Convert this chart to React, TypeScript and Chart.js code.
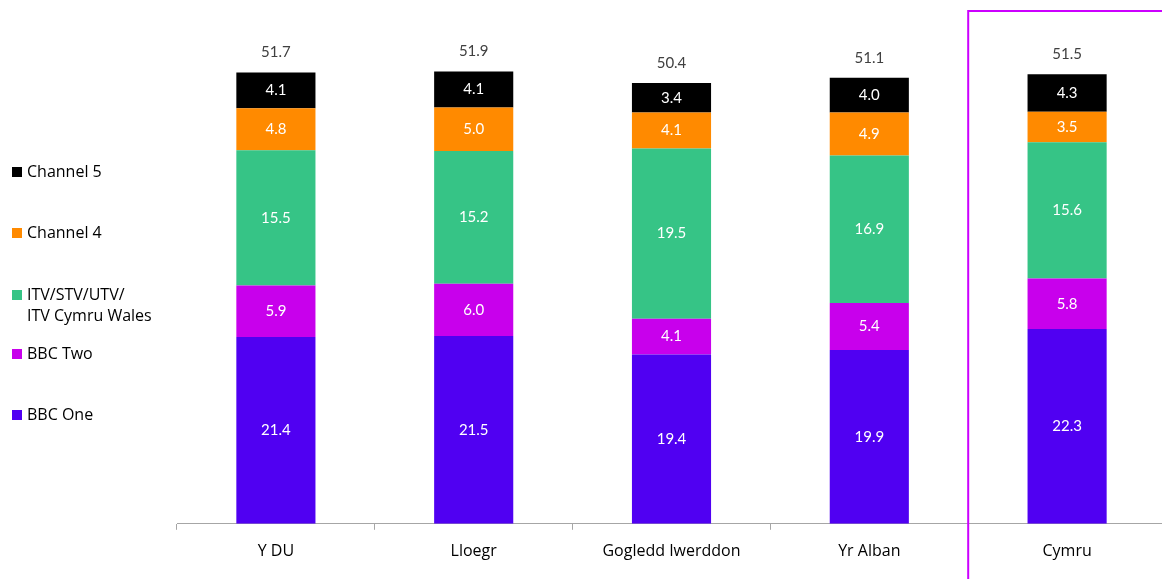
import React, { useEffect, useRef } from "react";
import { Chart, registerables } from "chart.js";

Chart.register(...registerables);

const categories = ["Y DU", "Lloegr", "Gogledd Iwerddon", "Yr Alban", "Cymru"];
const bbcOne = [21.4, 21.5, 19.4, 19.9, 22.3];
const bbcTwo = [5.9, 6.0, 4.1, 5.4, 5.8];
const itv = [15.5, 15.2, 19.5, 16.9, 15.6];
const channel4 = [4.8, 5.0, 4.1, 4.9, 3.5];
const channel5 = [4.1, 4.1, 3.4, 4.0, 4.3];
const totals = [51.7, 51.9, 50.4, 51.1, 51.5];

const seriesNames = ["BBC One", "BBC Two", "ITV/STV/UTV/ITV Cymru Wales", "Channel 4", "Channel 5"];
const colors = ["#5000F2", "#C800EC", "#36C486", "#FF8A00", "#000000"];
const legendLines = [["BBC One"], ["BBC Two"], ["ITV/STV/UTV/", "ITV Cymru Wales"], ["Channel 4"], ["Channel 5"]];
const legendY = [415, 354, 295, 233, 172];

const NUMFONT = "Lato, 'Open Sans', sans-serif";
const FONT = "'Open Sans', Lato, sans-serif";

export default function App() {
  const ref = useRef<HTMLCanvasElement | null>(null);
  useEffect(() => {
    if (!ref.current) return;
    const labelsPlugin = {
      id: "labelsPlugin",
      afterDatasetsDraw(chart: any) {
        const ctx = chart.ctx;
        ctx.save();
        ctx.textAlign = "center";
        ctx.textBaseline = "middle";
        ctx.font = `15px ${NUMFONT}`;
        chart.data.datasets.forEach((ds: any, di: number) => {
          const meta = chart.getDatasetMeta(di);
          meta.data.forEach((bar: any, i: number) => {
            const v = ds.data[i];
            ctx.fillStyle = "#FFFFFF";
            ctx.fillText(v.toFixed(1), bar.x, (bar.y + bar.base) / 2);
          });
        });
        const top = chart.getDatasetMeta(chart.data.datasets.length - 1);
        ctx.fillStyle = "#404040";
        top.data.forEach((bar: any, i: number) => {
          ctx.fillText(totals[i].toFixed(1), bar.x, bar.y - 20);
        });
        // legend
        ctx.textAlign = "left";
        ctx.font = `16px ${FONT}`;
        legendLines.forEach((lines, k) => {
          const y = legendY[k];
          ctx.fillStyle = colors[k];
          ctx.fillRect(12, y - 5, 10, 10);
          ctx.fillStyle = "#000000";
          lines.forEach((t, j) => {
            ctx.fillText(t, 27, y + j * 21);
          });
        });
        // highlight box
        const xs = chart.scales.x;
        const left = (xs.getPixelForValue(3) + xs.getPixelForValue(4)) / 2;
        ctx.strokeStyle = "#CC00FF";
        ctx.lineWidth = 2;
        ctx.strokeRect(left, 11, 400, 700);
        ctx.restore();
      },
    };
    const chart = new Chart(ref.current, {
      type: "bar",
      data: {
        labels: categories,
        datasets: [bbcOne, bbcTwo, itv, channel4, channel5].map((d, k) => ({
          label: seriesNames[k],
          data: d,
          backgroundColor: colors[k],
          borderWidth: 0,
          barPercentage: 0.4,
          categoryPercentage: 1,
        })),
      },
      options: {
        animation: false,
        responsive: false,
        maintainAspectRatio: false,
        layout: { padding: { left: 177, top: 0, right: 0, bottom: 6 } },
        plugins: { legend: { display: false }, tooltip: { enabled: false } },
        scales: {
          x: {
            stacked: true,
            offset: true,
            grid: { display: true, drawOnChartArea: false, drawTicks: true, tickLength: 6, color: "#A6A6A6", offset: true },
            border: { display: true, color: "#A6A6A6", width: 1 },
            ticks: { color: "#000000", font: { family: FONT, size: 16 }, padding: 12 },
          },
          y: { stacked: true, display: false, min: 0, max: 60 },
        },
      },
      plugins: [labelsPlugin],
    });
    return () => chart.destroy();
  }, []);
  return (
    <div style={{ position: "fixed", left: 0, top: 0, width: 1162, height: 579, overflow: "hidden", background: "#fff" }}>
      <canvas ref={ref} width={1166} height={579} style={{ display: "block" }} />
    </div>
  );
}
